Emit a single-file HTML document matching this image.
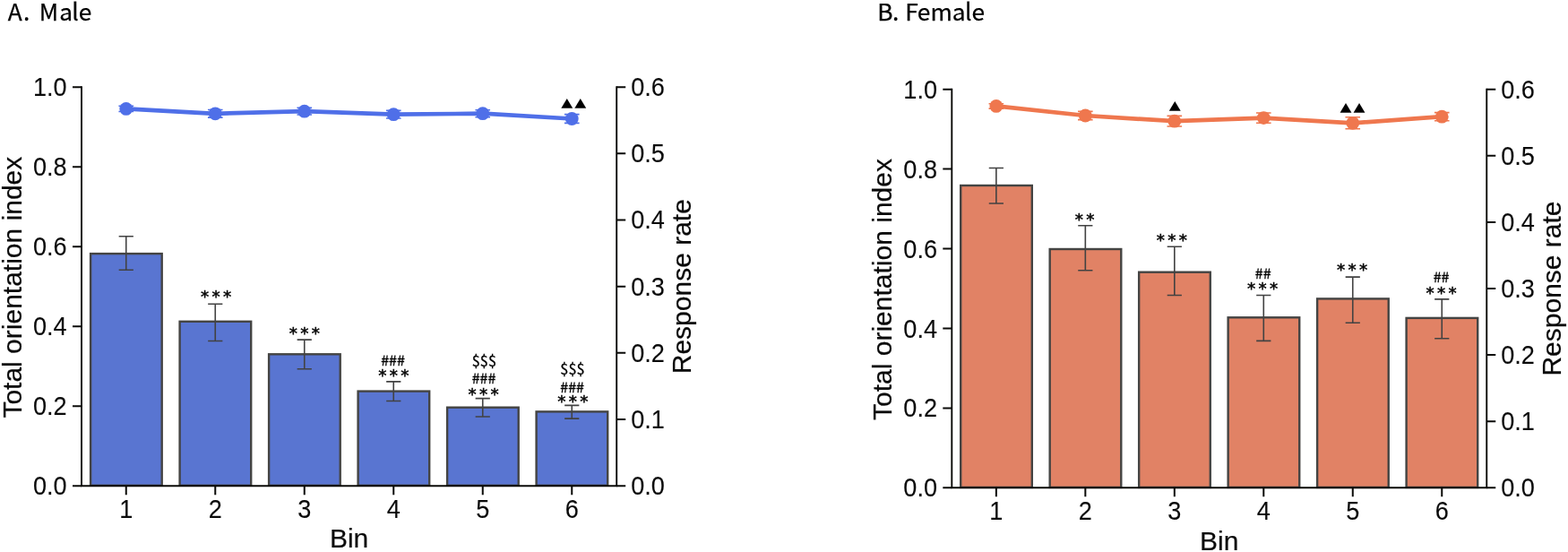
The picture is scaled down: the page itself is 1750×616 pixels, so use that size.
<!DOCTYPE html>
<html lang="en">
<head>
<meta charset="utf-8">
<title>Total orientation index and response rate by bin</title>
<style>
html,body{margin:0;padding:0;background:#fff;}
body{width:1750px;height:616px;overflow:hidden;}
svg{display:block;}
text{font-family:"Liberation Sans","DejaVu Sans",sans-serif;fill:#0a0a0a;}
.tk{font-size:27.1px;stroke:#0a0a0a;stroke-width:0.1px;}
.lb{font-size:30px;stroke:#0a0a0a;stroke-width:0.2px;}
.tt{font-family:"Noto Sans CJK SC","Liberation Sans",sans-serif;font-size:26.3px;fill:#000;stroke:#000;stroke-width:0.25px;}
.as{font-family:"DejaVu Sans","Liberation Sans",sans-serif;fill:#000;font-size:18.4px;letter-spacing:3.3px;stroke:#000;stroke-width:0.5px}
.hs{font-family:"Noto Sans CJK SC","Liberation Sans",sans-serif;fill:#000;font-size:16px;stroke:#000;stroke-width:0.3px}
.ds{font-family:"Noto Sans CJK SC","Liberation Sans",sans-serif;fill:#000;font-size:16.3px;stroke:#000;stroke-width:0.3px}
.tr{font-family:"DejaVu Sans","Liberation Sans",sans-serif;fill:#000;font-size:14.1px;letter-spacing:1.6px}
</style>
</head>
<body>
<svg width="1750" height="616" viewBox="0 0 1750 616">
<rect width="1750" height="616" fill="#fff"/>
<g>
<rect x="101.10" y="283.10" width="79.6" height="258.70" fill="#5975d1" stroke="#444443" stroke-width="2.4"/>
<rect x="200.60" y="358.80" width="79.6" height="183.00" fill="#5975d1" stroke="#444443" stroke-width="2.4"/>
<rect x="300.10" y="395.30" width="79.6" height="146.50" fill="#5975d1" stroke="#444443" stroke-width="2.4"/>
<rect x="399.60" y="436.60" width="79.6" height="105.20" fill="#5975d1" stroke="#444443" stroke-width="2.4"/>
<rect x="499.10" y="454.70" width="79.6" height="87.10" fill="#5975d1" stroke="#444443" stroke-width="2.4"/>
<rect x="598.60" y="459.40" width="79.6" height="82.40" fill="#5975d1" stroke="#444443" stroke-width="2.4"/>
<path d="M140.75 263.70V301.30M132.65 263.70h16.2M132.65 301.30h16.2" stroke="#424242" stroke-width="1.6" fill="none"/>
<path d="M240.25 339.30V380.50M232.15 339.30h16.2M232.15 380.50h16.2" stroke="#424242" stroke-width="1.6" fill="none"/>
<path d="M339.75 379.10V411.80M331.65 379.10h16.2M331.65 411.80h16.2" stroke="#424242" stroke-width="1.6" fill="none"/>
<path d="M439.25 425.90V447.50M431.15 425.90h16.2M431.15 447.50h16.2" stroke="#424242" stroke-width="1.6" fill="none"/>
<path d="M538.75 444.60V465.00M530.65 444.60h16.2M530.65 465.00h16.2" stroke="#424242" stroke-width="1.6" fill="none"/>
<path d="M638.25 452.40V467.10M630.15 452.40h16.2M630.15 467.10h16.2" stroke="#424242" stroke-width="1.6" fill="none"/>
<polyline points="140.75,121.40 240.25,126.80 339.75,124.20 439.25,127.70 538.75,126.70 638.25,132.50" fill="none" stroke="#4f6fe8" stroke-width="4.7" stroke-linejoin="round"/>
<path d="M140.75 118.30V124.50M132.45 118.30h16.6M132.45 124.50h16.6" stroke="#4f6fe8" stroke-width="1.6" fill="none"/>
<circle cx="140.75" cy="121.40" r="7.4" fill="#4f6fe8"/>
<path d="M240.25 122.50V131.10M231.95 122.50h16.6M231.95 131.10h16.6" stroke="#4f6fe8" stroke-width="1.6" fill="none"/>
<circle cx="240.25" cy="126.80" r="7.4" fill="#4f6fe8"/>
<path d="M339.75 120.40V128.00M331.45 120.40h16.6M331.45 128.00h16.6" stroke="#4f6fe8" stroke-width="1.6" fill="none"/>
<circle cx="339.75" cy="124.20" r="7.4" fill="#4f6fe8"/>
<path d="M439.25 123.40V132.00M430.95 123.40h16.6M430.95 132.00h16.6" stroke="#4f6fe8" stroke-width="1.6" fill="none"/>
<circle cx="439.25" cy="127.70" r="7.4" fill="#4f6fe8"/>
<path d="M538.75 122.70V130.70M530.45 122.70h16.6M530.45 130.70h16.6" stroke="#4f6fe8" stroke-width="1.6" fill="none"/>
<circle cx="538.75" cy="126.70" r="7.4" fill="#4f6fe8"/>
<path d="M638.25 127.60V137.40M629.95 127.60h16.6M629.95 137.40h16.6" stroke="#4f6fe8" stroke-width="1.6" fill="none"/>
<circle cx="638.25" cy="132.50" r="7.4" fill="#4f6fe8"/>
<path d="M91.00 96.15V542.20H688.20V96.15" fill="none" stroke="#0b0b08" stroke-width="1.9" stroke-linejoin="miter"/>
<path d="M81.00 542.20H91.00M81.00 453.19H91.00M81.00 364.18H91.00M81.00 275.17H91.00M81.00 186.16H91.00M81.00 97.15H91.00M688.20 542.20H698.20M688.20 468.03H698.20M688.20 393.85H698.20M688.20 319.68H698.20M688.20 245.50H698.20M688.20 171.32H698.20M688.20 97.15H698.20M140.75 542.20v10M240.25 542.20v10M339.75 542.20v10M439.25 542.20v10M538.75 542.20v10M638.25 542.20v10" stroke="#0b0b08" stroke-width="2" fill="none"/>
<text class="tk" transform="translate(74.70 552.15) scale(1 1.055)" text-anchor="end">0.0</text>
<text class="tk" transform="translate(74.70 463.14) scale(1 1.055)" text-anchor="end">0.2</text>
<text class="tk" transform="translate(74.70 374.13) scale(1 1.055)" text-anchor="end">0.4</text>
<text class="tk" transform="translate(74.70 285.12) scale(1 1.055)" text-anchor="end">0.6</text>
<text class="tk" transform="translate(74.70 196.11) scale(1 1.055)" text-anchor="end">0.8</text>
<text class="tk" transform="translate(74.70 107.10) scale(1 1.055)" text-anchor="end">1.0</text>
<text class="tk" transform="translate(704.20 552.15) scale(1 1.055)">0.0</text>
<text class="tk" transform="translate(704.20 477.98) scale(1 1.055)">0.1</text>
<text class="tk" transform="translate(704.20 403.80) scale(1 1.055)">0.2</text>
<text class="tk" transform="translate(704.20 329.63) scale(1 1.055)">0.3</text>
<text class="tk" transform="translate(704.20 255.45) scale(1 1.055)">0.4</text>
<text class="tk" transform="translate(704.20 181.27) scale(1 1.055)">0.5</text>
<text class="tk" transform="translate(704.20 107.10) scale(1 1.055)">0.6</text>
<text class="tk" transform="translate(140.75 577.80) scale(1 1.055)" text-anchor="middle">1</text>
<text class="tk" transform="translate(240.25 577.80) scale(1 1.055)" text-anchor="middle">2</text>
<text class="tk" transform="translate(339.75 577.80) scale(1 1.055)" text-anchor="middle">3</text>
<text class="tk" transform="translate(439.25 577.80) scale(1 1.055)" text-anchor="middle">4</text>
<text class="tk" transform="translate(538.75 577.80) scale(1 1.055)" text-anchor="middle">5</text>
<text class="tk" transform="translate(638.25 577.80) scale(1 1.055)" text-anchor="middle">6</text>
<text class="lb" x="389.60" y="611.30" text-anchor="middle">Bin</text>
<text class="lb" transform="translate(23.90 320.68) rotate(-90)" text-anchor="middle">Total orientation index</text>
<text class="lb" transform="translate(770.70 319.68) rotate(-90)" text-anchor="middle">Response rate</text>
<text class="tt" x="8.65 26 35 43.8 66.3 80.3 87.8" y="22.6">A. Male</text>
<text class="as" transform="translate(242.78 337.23)" text-anchor="middle">***</text>
<text class="as" transform="translate(341.48 377.78)" text-anchor="middle">***</text>
<text class="as" transform="translate(441.07 425.03)" text-anchor="middle">***</text>
<text class="hs" transform="translate(438.52 407.88)" text-anchor="middle">###</text>
<text class="as" transform="translate(541.17 445.53)" text-anchor="middle">***</text>
<text class="hs" transform="translate(539.98 427.52)" text-anchor="middle">###</text>
<text class="ds" transform="translate(540.38 409.07)" text-anchor="middle">$$$</text>
<text class="as" transform="translate(641.08 453.88)" text-anchor="middle">***</text>
<text class="hs" transform="translate(638.67 437.93)" text-anchor="middle">###</text>
<text class="ds" transform="translate(638.92 418.07)" text-anchor="middle">$$$</text>
<text class="tr" transform="translate(641.25 119.33) scale(1.2 1)" text-anchor="middle">▲▲</text>
</g>
<g>
<rect x="1072.20" y="207.00" width="79.6" height="336.90" fill="#e18265" stroke="#444443" stroke-width="2.4"/>
<rect x="1171.68" y="278.00" width="79.6" height="265.90" fill="#e18265" stroke="#444443" stroke-width="2.4"/>
<rect x="1271.16" y="303.70" width="79.6" height="240.20" fill="#e18265" stroke="#444443" stroke-width="2.4"/>
<rect x="1370.64" y="354.30" width="79.6" height="189.60" fill="#e18265" stroke="#444443" stroke-width="2.4"/>
<rect x="1470.12" y="333.40" width="79.6" height="210.50" fill="#e18265" stroke="#444443" stroke-width="2.4"/>
<rect x="1569.60" y="354.90" width="79.6" height="189.00" fill="#e18265" stroke="#444443" stroke-width="2.4"/>
<path d="M1111.85 187.50V227.00M1103.75 187.50h16.2M1103.75 227.00h16.2" stroke="#424242" stroke-width="1.6" fill="none"/>
<path d="M1211.33 251.70V301.80M1203.23 251.70h16.2M1203.23 301.80h16.2" stroke="#424242" stroke-width="1.6" fill="none"/>
<path d="M1310.81 275.20V329.50M1302.71 275.20h16.2M1302.71 329.50h16.2" stroke="#424242" stroke-width="1.6" fill="none"/>
<path d="M1410.29 329.50V380.40M1402.19 329.50h16.2M1402.19 380.40h16.2" stroke="#424242" stroke-width="1.6" fill="none"/>
<path d="M1509.77 309.10V360.20M1501.67 309.10h16.2M1501.67 360.20h16.2" stroke="#424242" stroke-width="1.6" fill="none"/>
<path d="M1609.25 333.85V377.70M1601.15 333.85h16.2M1601.15 377.70h16.2" stroke="#424242" stroke-width="1.6" fill="none"/>
<polyline points="1111.85,118.40 1211.33,129.00 1310.81,135.20 1410.29,131.60 1509.77,137.30 1609.25,130.20" fill="none" stroke="#ef774e" stroke-width="4.7" stroke-linejoin="round"/>
<path d="M1111.85 115.70V121.10M1103.55 115.70h16.6M1103.55 121.10h16.6" stroke="#ef774e" stroke-width="1.6" fill="none"/>
<circle cx="1111.85" cy="118.40" r="7.4" fill="#ef774e"/>
<path d="M1211.33 124.40V133.60M1203.03 124.40h16.6M1203.03 133.60h16.6" stroke="#ef774e" stroke-width="1.6" fill="none"/>
<circle cx="1211.33" cy="129.00" r="7.4" fill="#ef774e"/>
<path d="M1310.81 129.40V141.00M1302.51 129.40h16.6M1302.51 141.00h16.6" stroke="#ef774e" stroke-width="1.6" fill="none"/>
<circle cx="1310.81" cy="135.20" r="7.4" fill="#ef774e"/>
<path d="M1410.29 126.00V137.20M1401.99 126.00h16.6M1401.99 137.20h16.6" stroke="#ef774e" stroke-width="1.6" fill="none"/>
<circle cx="1410.29" cy="131.60" r="7.4" fill="#ef774e"/>
<path d="M1509.77 130.80V143.80M1501.47 130.80h16.6M1501.47 143.80h16.6" stroke="#ef774e" stroke-width="1.6" fill="none"/>
<circle cx="1509.77" cy="137.30" r="7.4" fill="#ef774e"/>
<path d="M1609.25 125.60V134.80M1600.95 125.60h16.6M1600.95 134.80h16.6" stroke="#ef774e" stroke-width="1.6" fill="none"/>
<circle cx="1609.25" cy="130.20" r="7.4" fill="#ef774e"/>
<path d="M1062.30 98.70V544.30H1659.25V98.70" fill="none" stroke="#0b0b08" stroke-width="1.9" stroke-linejoin="miter"/>
<path d="M1052.30 544.30H1062.30M1052.30 455.38H1062.30M1052.30 366.46H1062.30M1052.30 277.54H1062.30M1052.30 188.62H1062.30M1052.30 99.70H1062.30M1659.25 544.30H1669.25M1659.25 470.20H1669.25M1659.25 396.10H1669.25M1659.25 322.00H1669.25M1659.25 247.90H1669.25M1659.25 173.80H1669.25M1659.25 99.70H1669.25M1111.85 544.30v10M1211.33 544.30v10M1310.81 544.30v10M1410.29 544.30v10M1509.77 544.30v10M1609.25 544.30v10" stroke="#0b0b08" stroke-width="2" fill="none"/>
<text class="tk" transform="translate(1046.00 554.34) scale(1 1.055)" text-anchor="end">0.0</text>
<text class="tk" transform="translate(1046.00 465.42) scale(1 1.055)" text-anchor="end">0.2</text>
<text class="tk" transform="translate(1046.00 376.50) scale(1 1.055)" text-anchor="end">0.4</text>
<text class="tk" transform="translate(1046.00 287.58) scale(1 1.055)" text-anchor="end">0.6</text>
<text class="tk" transform="translate(1046.00 198.66) scale(1 1.055)" text-anchor="end">0.8</text>
<text class="tk" transform="translate(1046.00 109.74) scale(1 1.055)" text-anchor="end">1.0</text>
<text class="tk" transform="translate(1675.25 554.34) scale(1 1.055)">0.0</text>
<text class="tk" transform="translate(1675.25 480.24) scale(1 1.055)">0.1</text>
<text class="tk" transform="translate(1675.25 406.14) scale(1 1.055)">0.2</text>
<text class="tk" transform="translate(1675.25 332.04) scale(1 1.055)">0.3</text>
<text class="tk" transform="translate(1675.25 257.94) scale(1 1.055)">0.4</text>
<text class="tk" transform="translate(1675.25 183.84) scale(1 1.055)">0.5</text>
<text class="tk" transform="translate(1675.25 109.74) scale(1 1.055)">0.6</text>
<text class="tk" transform="translate(1111.85 580.35) scale(1 1.055)" text-anchor="middle">1</text>
<text class="tk" transform="translate(1211.33 580.35) scale(1 1.055)" text-anchor="middle">2</text>
<text class="tk" transform="translate(1310.81 580.35) scale(1 1.055)" text-anchor="middle">3</text>
<text class="tk" transform="translate(1410.29 580.35) scale(1 1.055)" text-anchor="middle">4</text>
<text class="tk" transform="translate(1509.77 580.35) scale(1 1.055)" text-anchor="middle">5</text>
<text class="tk" transform="translate(1609.25 580.35) scale(1 1.055)" text-anchor="middle">6</text>
<text class="lb" x="1360.78" y="613.62" text-anchor="middle">Bin</text>
<text class="lb" transform="translate(995.20 323.00) rotate(-90)" text-anchor="middle">Total orientation index</text>
<text class="lb" transform="translate(1741.75 322.00) rotate(-90)" text-anchor="middle">Response rate</text>
<text class="tt" x="979.25 996 1004 1010.25 1023.7 1038.5 1062.7 1077.1 1084.5" y="22.6">B. Female</text>
<text class="as" transform="translate(1212.33 250.67)" text-anchor="middle">**</text>
<text class="as" transform="translate(1309.47 274.28)" text-anchor="middle">***</text>
<text class="as" transform="translate(1410.67 328.18)" text-anchor="middle">***</text>
<text class="hs" transform="translate(1409.70 310.68)" text-anchor="middle">##</text>
<text class="as" transform="translate(1510.78 307.48)" text-anchor="middle">***</text>
<text class="as" transform="translate(1610.33 332.78)" text-anchor="middle">***</text>
<text class="hs" transform="translate(1608.55 315.48)" text-anchor="middle">##</text>
<text class="tr" transform="translate(1312.20 121.50) scale(1.2 1)" text-anchor="middle">▲</text>
<text class="tr" transform="translate(1510.45 123.58) scale(1.2 1)" text-anchor="middle">▲▲</text>
</g>
</svg>
</body>
</html>
